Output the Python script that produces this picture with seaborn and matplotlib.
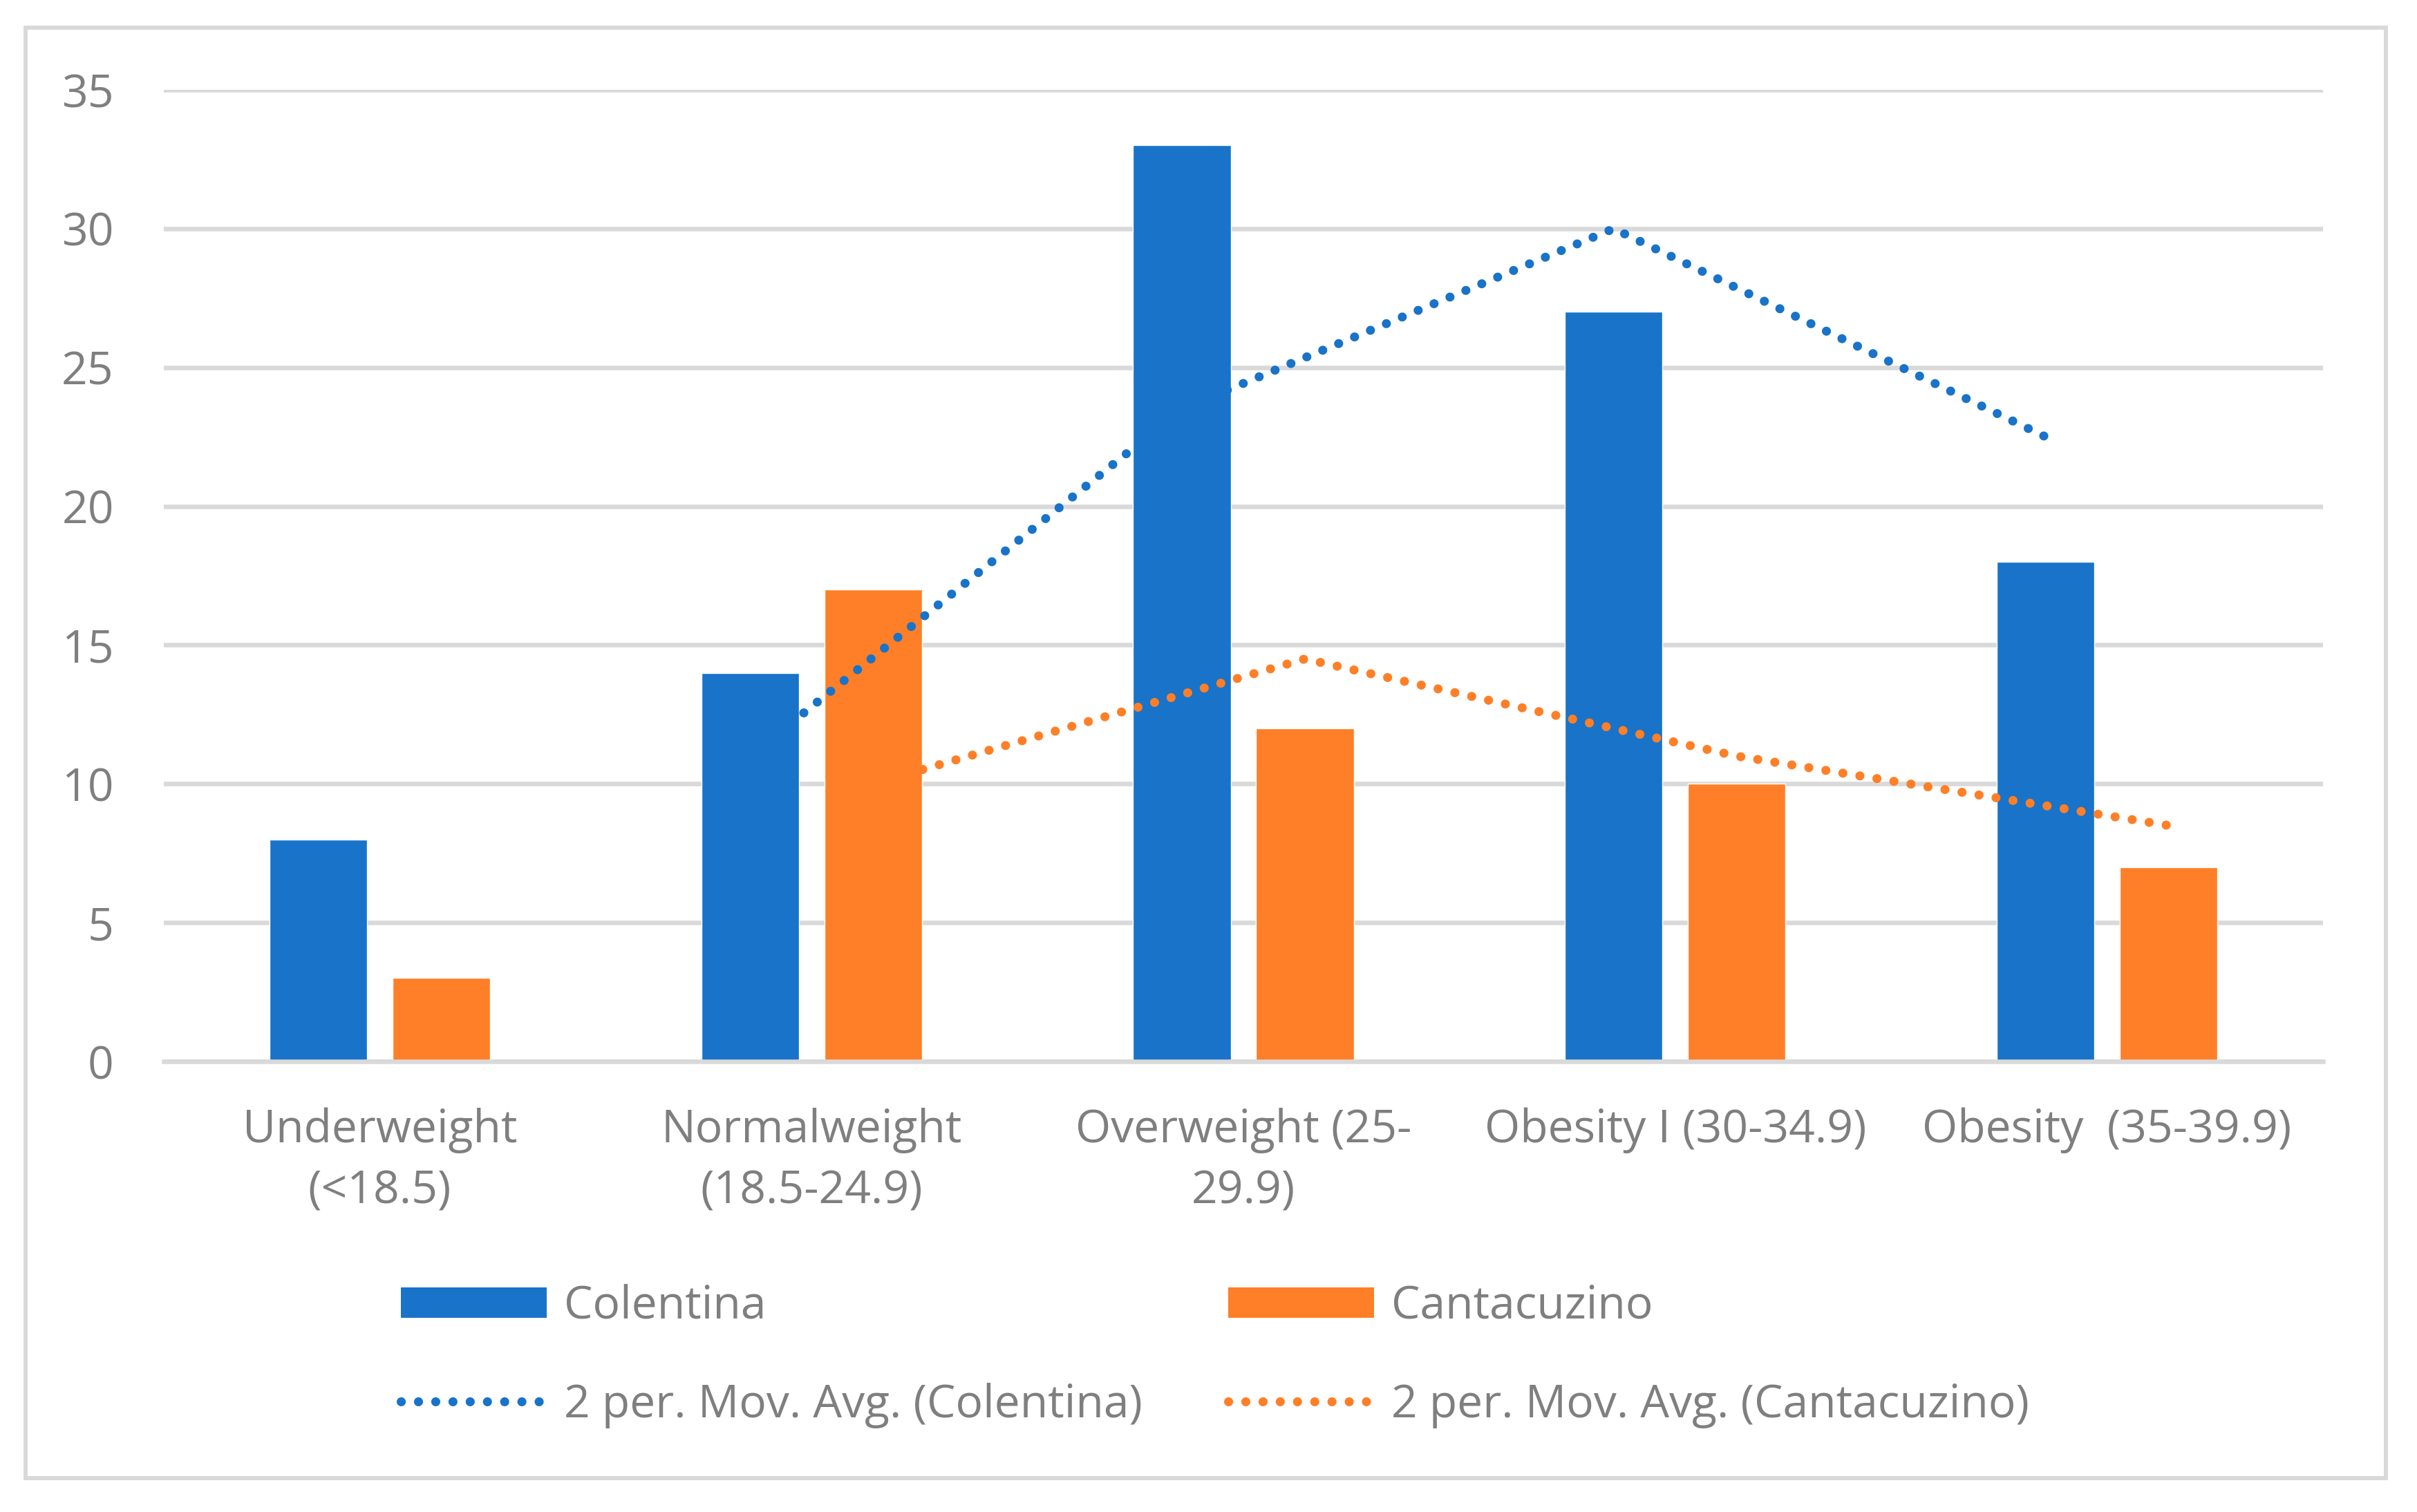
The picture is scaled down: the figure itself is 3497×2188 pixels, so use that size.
import matplotlib
matplotlib.use("Agg")
import matplotlib.pyplot as plt
import matplotlib.patches as mpatches
from matplotlib.lines import Line2D
import seaborn as sns
import pandas as pd

# ---- data ----
categories = ["Underweight\n(<18.5)", "Normalweight\n(18.5-24.9)", "Overweight (25-\n29.9)",
              "Obesity I (30-34.9)", "Obesity  (35-39.9)"]
colentina = [8, 14, 33, 27, 18]
cantacuzino = [3, 17, 12, 10, 7]
# 2-period moving averages (trendlines), starting at the 2nd category
ma_colentina = [11, 23.5, 30, 22.5]
ma_cantacuzino = [10, 14.5, 11, 8.5]
series_names = ["Colentina", "Cantacuzino"]
ma_names = ["2 per. Mov. Avg. (Colentina)", "2 per. Mov. Avg. (Cantacuzino)"]
yticks = [0, 5, 10, 15, 20, 25, 30, 35]

BLUE = "#1873c9"
ORANGE = "#fe7f27"
GRID = "#d9d9d9"
TEXT = "#7f7f7f"

df = pd.DataFrame({
    "category": categories * 2,
    "value": colentina + cantacuzino,
    "site": [series_names[0]] * len(categories) + [series_names[1]] * len(categories),
})

sns.set_theme(style="white")
plt.rcParams["font.family"] = ["Open Sans", "DejaVu Sans"]

W, H, DPI = 3497, 2188, 100
fig = plt.figure(figsize=(W / DPI, H / DPI), dpi=DPI)
ax = fig.add_axes([237 / W, 1 - 1536 / H, (3361 - 237) / W, (1536 - 130) / H])

sns.barplot(data=df, x="category", y="value", hue="site", order=categories,
            hue_order=series_names, palette=[BLUE, ORANGE], saturation=1,
            width=0.5697, gap=0.2076, legend=False, ax=ax, zorder=2)

# moving-average trendlines placed at each series' bar centres
FS = 47.5
LW = 9.4
dot_style = dict(linestyle=(0, (0.01, 1.9)), dash_capstyle="round", linewidth=LW)
for cont, ma, col in zip(ax.containers, [ma_colentina, ma_cantacuzino], [BLUE, ORANGE]):
    xs = [b.get_x() + b.get_width() / 2 for b in cont][1:]
    ax.plot(xs, ma, color=col, zorder=3, **dot_style)

ax.set_xlim(-0.5, len(categories) - 0.5)
ax.set_ylim(0, 35)
ax.set_yticks(yticks)
ax.set_yticklabels([str(t) for t in yticks])
ax.set_xlabel("")
ax.set_ylabel("")
ax.yaxis.grid(True, color=GRID, linewidth=4.7, zorder=0)
ax.xaxis.grid(False)
ax.set_axisbelow(True)
for s in ["left", "right", "top"]:
    ax.spines[s].set_visible(False)
ax.spines["bottom"].set_color(GRID)
ax.spines["bottom"].set_linewidth(4.7)
ax.spines["bottom"].set_zorder(4)
ax.tick_params(axis="both", length=0, labelsize=FS, labelcolor=TEXT)
ax.tick_params(axis="y", pad=52)
ax.tick_params(axis="x", pad=48)
for lab in ax.get_xticklabels():
    lab.set_linespacing(1.45)

# legend: two columns built as two legends
leg_kw = dict(loc="upper left", frameon=False, fontsize=FS, labelcolor=TEXT,
              borderpad=0, borderaxespad=0, handlelength=3.2, handleheight=0.64,
              handletextpad=0.38, labelspacing=1.16)
for i, col in enumerate([BLUE, ORANGE]):
    handles = [mpatches.Patch(facecolor=col, edgecolor="none"),
               Line2D([0], [0], color=col, **dot_style)]
    labels = [series_names[i], ma_names[i]]
    xanchor = [580, 1777][i] / W
    fig.legend(handles, labels, bbox_to_anchor=(xanchor, 1 - 1858 / H), **leg_kw)

# outer chart border
fig.patches.append(mpatches.Rectangle((37 / W, 1 - 2139 / H), (3452 - 37) / W, (2139 - 40) / H,
                                      transform=fig.transFigure, fill=False,
                                      edgecolor=GRID, linewidth=4.3))

fig.savefig("out.png", dpi=DPI)
